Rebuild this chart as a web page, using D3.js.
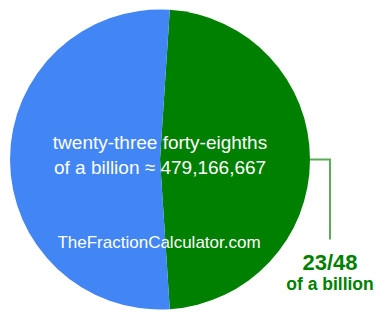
<!doctype html>
<html>
<head>
<style>
  body { margin: 0; background: #fff; }
  #chart { display: block; }
  .pie text { font-family: "Liberation Sans", Arial, sans-serif; }
</style>
</head>
<body>
<svg id="chart" class="pie"></svg>
<script src="https://cdn.jsdelivr.net/npm/d3@7"></script>
<script>
  // fraction: 23/48 of a billion
  var categories = ["23/48", "rest"];
  var values = [23, 25];
  var colors = ["#008000", "#4285f4"];
  var centerLines = ["twenty-three forty-eighths", "of a billion \u2248 479,166,667"];
  var labelLines = ["23/48", "of a billion"];
  var watermark = "TheFractionCalculator.com";

  var width = 385, height = 320,
      cx = 160, cy = 159.5, radius = 150;

  var svg = d3.select("#chart")
      .attr("width", width)
      .attr("height", height);

  var total = d3.sum(values);
  var start = Math.PI / 2 - Math.PI * values[0] / total;

  var pie = d3.pie()
      .sort(null)
      .startAngle(start)
      .endAngle(start + 2 * Math.PI);

  var arc = d3.arc().innerRadius(0).outerRadius(radius);

  var g = svg.append("g")
      .attr("transform", "translate(" + cx + "," + cy + ")");

  var slices = pie(values);

  g.selectAll("path")
      .data(slices)
      .enter().append("path")
        .attr("d", arc)
        .attr("fill", function(d, i) { return colors[i]; });

  // leader line from the middle of the green slice
  var s = slices[0];
  var mid = (s.startAngle + s.endAngle) / 2;
  var px = Math.sin(mid) * radius, py = -Math.cos(mid) * radius;
  g.append("path")
      .attr("d", "M" + px + "," + py + "H" + (px + 20) + "V" + (py + 80))
      .attr("fill", "none")
      .attr("stroke", "#008000")
      .attr("stroke-opacity", 0.65)
      .attr("stroke-width", 2);

  g.append("text")
      .attr("x", px + 20)
      .attr("y", py + 110.5)
      .attr("text-anchor", "middle")
      .attr("fill", "#008000")
      .attr("font-weight", "bold")
      .attr("font-size", 22)
      .text(labelLines[0]);
  g.append("text")
      .attr("x", px + 20)
      .attr("y", py + 130.5)
      .attr("text-anchor", "middle")
      .attr("fill", "#008000")
      .attr("font-weight", "bold")
      .attr("font-size", 17.5)
      .text(labelLines[1]);

  // center text
  g.selectAll("text.center")
      .data(centerLines)
      .enter().append("text")
        .attr("class", "center")
        .attr("x", 0)
        .attr("y", function(d, i) { return -11 + i * 25; })
        .attr("text-anchor", "middle")
        .attr("fill", "#fff")
        .attr("font-size", 19)
        .text(function(d) { return d; });

  g.append("text")
      .attr("x", -1)
      .attr("y", 88.5)
      .attr("text-anchor", "middle")
      .attr("fill", "#fff")
      .attr("font-size", 17)
      .text(watermark);
</script>
</body>
</html>
